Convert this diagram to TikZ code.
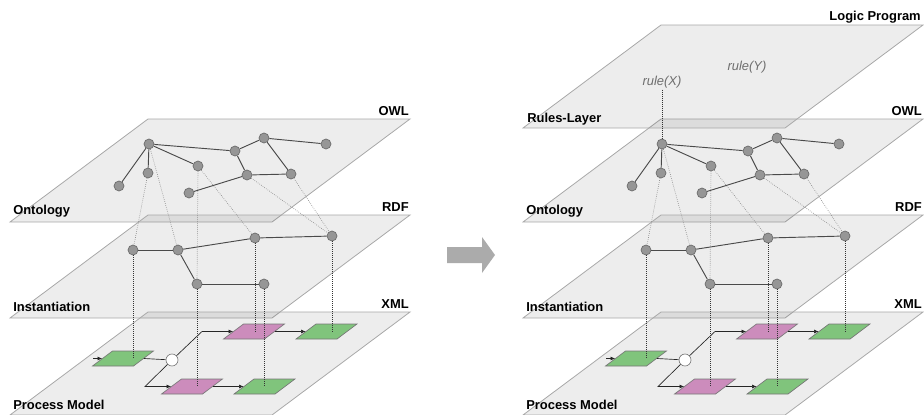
\documentclass[tikz,border=0pt]{standalone}
\usepackage{fontspec}
\setmainfont{Liberation Sans}
\usetikzlibrary{arrows.meta}
\definecolor{planeedge}{HTML}{A8A8A8}
\definecolor{dotfill}{HTML}{969696}
\definecolor{dotedge}{HTML}{6A6A6A}
\definecolor{linkc}{HTML}{4A4A4A}
\definecolor{taskgreen}{HTML}{80C47C}
\definecolor{taskpink}{HTML}{CC8CBC}
\definecolor{boxedge}{HTML}{767676}
\definecolor{rulec}{HTML}{6E6E6E}
\definecolor{bigarrow}{HTML}{ABABAB}

\begin{document}
\begin{tikzpicture}[x=0.75pt,y=-0.75pt,
  plane/.style={fill=black,fill opacity=0.07,draw=planeedge,draw opacity=1,line width=0.6pt},
  dot/.style={circle,fill=dotfill,draw=dotedge,line width=0.5pt,minimum size=7.5pt,inner sep=0pt},
  edge/.style={linkc,line width=0.7pt},
  hint/.style={black!45,densely dotted,line width=0.5pt},
  drop/.style={black!80,densely dotted,line width=0.5pt},
  task/.style={draw=boxedge,xslant=1.33,minimum width=30.75pt,minimum height=11.25pt,inner sep=0pt,line width=0.5pt},
  gate/.style={circle,draw=boxedge,fill=white,minimum size=9pt,inner sep=0pt,line width=0.5pt},
  flow/.style={-{Latex[length=3.5pt,width=3pt]},black!85,line width=0.5pt},
  lname/.style={font=\bfseries\fontsize{9.7}{11}\selectfont,inner sep=0pt},
  rule/.style={font=\itshape\fontsize{9.7}{11}\selectfont,text=rulec,inner sep=1pt}]
  \useasboundingbox (0,0) rectangle (924,414);
  \clip (0,0) rectangle (924,414);

  % ===== two stacks (before / after) =====
  \foreach \s/\dx in {L/0,R/513}{
  \begin{scope}[shift={(\dx,0)}]
    % planes
    \draw[plane] (10,222) -- ++(262,0) -- ++(138,-103) -- ++(-262,0) -- cycle;
    \draw[plane] (10,318) -- ++(262,0) -- ++(138,-103) -- ++(-262,0) -- cycle;
    \draw[plane] (10,415) -- ++(262,0) -- ++(138,-103) -- ++(-262,0) -- cycle;
    \node[lname,anchor=base east] (\s-owl) at (409,115) {OWL};
    \node[lname,anchor=base east] (\s-rdf) at (409,211) {RDF};
    \node[lname,anchor=base east] (\s-xml) at (409,308) {XML};
    \node[lname,anchor=base west] (\s-onto) at (13,214) {Ontology};
    \node[lname,anchor=base west] (\s-inst) at (13,311) {Instantiation};
    \node[lname,anchor=base west] (\s-proc) at (13,409) {Process Model};

    % process model
    \node[task,fill=taskgreen] (\s-t1) at (123,358.5) {};
    \node[gate] (\s-gw) at (172,360) {};
    \node[task,fill=taskpink] (\s-t2) at (254,331.5) {};
    \node[task,fill=taskgreen] (\s-t4) at (326.5,331.5) {};
    \node[task,fill=taskpink] (\s-t3) at (192,386.5) {};
    \node[task,fill=taskgreen] (\s-t5) at (264.5,386.5) {};
    \coordinate (\s-in) at (93,358.5);
    \coordinate (\s-up) at (202,331.5);
    \coordinate (\s-dn) at (145,386.5);
    \draw[flow] (\s-in) -- (\s-t1.west);
    \draw[flow,-] (\s-t1.east) -- (\s-gw);
    \draw[flow] (\s-gw) -- (\s-up) -- (\s-t2.west);
    \draw[flow] (\s-gw) -- (\s-dn) -- (\s-t3.west);
    \draw[flow] (\s-t2.east) -- (\s-t4.west);
    \draw[flow] (\s-t3.east) -- (\s-t5.west);

    % ontology
    \node[dot] (\s-o1) at (149,144) {};
    \node[dot] (\s-o2) at (148,173) {};
    \node[dot] (\s-o3) at (119,186) {};
    \node[dot] (\s-o4) at (198,166) {};
    \node[dot] (\s-o5) at (235,151) {};
    \node[dot] (\s-o6) at (264,138) {};
    \node[dot] (\s-o7) at (326,144) {};
    \node[dot] (\s-o8) at (247,175) {};
    \node[dot] (\s-o9) at (291,174) {};
    \node[dot] (\s-o10) at (189,193) {};
    \draw[edge] (\s-o1) -- (\s-o2);
    \draw[edge] (\s-o1) -- (\s-o3);
    \draw[edge] (\s-o1) -- (\s-o4);
    \draw[edge] (\s-o1) -- (\s-o5);
    \draw[edge] (\s-o5) -- (\s-o6);
    \draw[edge] (\s-o6) -- (\s-o7);
    \draw[edge] (\s-o5) -- (\s-o8);
    \draw[edge] (\s-o6) -- (\s-o9);
    \draw[edge] (\s-o8) -- (\s-o9);
    \draw[edge] (\s-o8) -- (\s-o10);

    % instances
    \node[dot] (\s-r1) at (133,250) {};
    \node[dot] (\s-r2) at (178,250) {};
    \node[dot] (\s-r3) at (255,238) {};
    \node[dot] (\s-r4) at (332,236) {};
    \node[dot] (\s-r5) at (197,284) {};
    \node[dot] (\s-r6) at (264,284) {};
    \draw[edge] (\s-r1) -- (\s-r2);
    \draw[edge] (\s-r2) -- (\s-r3);
    \draw[edge] (\s-r3) -- (\s-r4);
    \draw[edge] (\s-r2) -- (\s-r5);
    \draw[edge] (\s-r5) -- (\s-r6);

    % links between layers
    \draw[hint] (\s-o2) -- (\s-r1);
    \draw[hint] (\s-o1) -- (\s-r2);
    \draw[hint] (\s-o4) -- (\s-r5);
    \draw[hint] (\s-o4) -- (\s-r3);
    \draw[hint] (\s-o8) -- (\s-r4);
    \draw[hint] (\s-o9) -- (\s-r4);
    \draw[drop] (\s-r1) -- (\s-r1 |- \s-t1.center);
    \draw[drop] (\s-r5) -- (\s-r5 |- \s-t3.center);
    \draw[drop] (\s-r3) -- (\s-r3 |- \s-t2.center);
    \draw[drop] (\s-r6) -- (\s-r6 |- \s-t5.center);
    \draw[drop] (\s-r4) -- (\s-r4 |- \s-t4.center);
  \end{scope}
  }

  % ===== rules layer (right stack only) =====
  \begin{scope}[shift={(513,0)}]
    \draw[plane] (10,128) -- ++(262,0) -- ++(138,-103) -- ++(-262,0) -- cycle;
    \node[lname,anchor=base east] (logic) at (408,21) {Logic Program};
    \node[lname,anchor=base west] (rules) at (14,122) {Rules-Layer};
    \node[rule] (rx) at (149,82) {rule(X)};
    \node[rule] (ry) at (234,67) {rule(Y)};
    \draw[drop] (rx) -- (R-o1);
  \end{scope}

  % ===== transition arrow =====
  \fill[bigarrow] (447,247) -- (482,247) -- (482,237) -- (495,255) -- (482,273) -- (482,263) -- (447,263) -- cycle;
\end{tikzpicture}
\end{document}
